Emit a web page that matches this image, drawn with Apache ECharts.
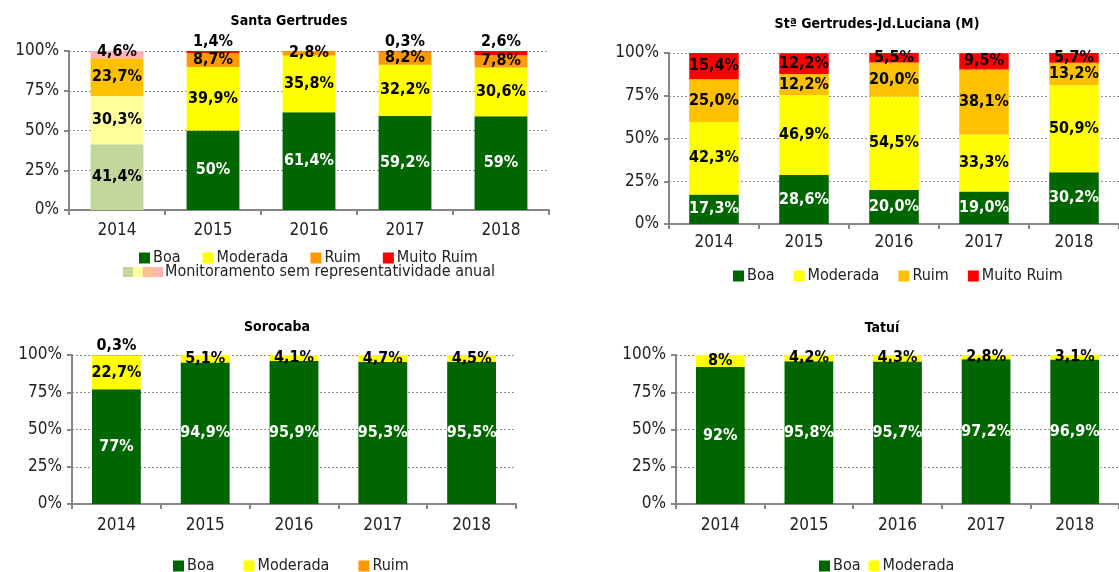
<!DOCTYPE html>
<html>
<head>
<meta charset="utf-8">
<script src="https://cdn.jsdelivr.net/npm/echarts@6/dist/echarts.min.js"></script>
<style>
  html, body { margin: 0; padding: 0; background: #fff; }
  #chart { width: 1119px; height: 572px; }
</style>
</head>
<body>
<div id="chart"></div>
<script>
// anos (categorias)
const years = ['2014', '2015', '2016', '2017', '2018'];
const yTicks = [0, 25, 50, 75, 100];

// Santa Gertrudes
const sgBoa = [41.4, 50, 61.4, 59.2, 59];
const sgModerada = [30.3, 39.9, 35.8, 32.2, 30.6];
const sgRuim = [23.7, 8.7, 2.8, 8.2, 7.8];
const sgMuitoRuim = [4.6, 1.4, 0, 0.3, 2.6];

// Stª Gertrudes-Jd.Luciana (M)
const jlBoa = [17.3, 28.6, 20.0, 19.0, 30.2];
const jlModerada = [42.3, 46.9, 54.5, 33.3, 50.9];
const jlRuim = [25.0, 12.2, 20.0, 38.1, 13.2];
const jlMuitoRuim = [15.4, 12.2, 5.5, 9.5, 5.7];

// Sorocaba
const soBoa = [77, 94.9, 95.9, 95.3, 95.5];
const soModerada = [22.7, 5.1, 4.1, 4.7, 4.5];
const soRuim = [0.3, 0, 0, 0, 0];

// Tatuí
const taBoa = [92, 95.8, 95.7, 97.2, 96.9];
const taModerada = [8, 4.2, 4.3, 2.8, 3.1];

const FONT = "'DejaVu Sans Condensed', 'Liberation Sans Narrow', 'Roboto', sans-serif";
const C = {
  boa: '#006600', moderada: '#FFFF00', ruim: '#FF9900', ruimGold: '#FFC000', muitoRuim: '#FF0000',
  paleBoa: '#C4D79B', paleModerada: '#FFFF99', paleRuim: '#FAC090', paleMuitoRuim: '#FFB3B3'
};

function fmt(v, dec) {
  if (!v) return '';
  const s = dec ? v.toFixed(dec) : String(v);
  return s.replace('.', ',') + '%';
}

// um painel = grid + eixos
const panels = [
  { left: 69, top: 51, width: 480, height: 159, labelMargin: 12 },
  { left: 669, top: 53, width: 460, height: 171, labelMargin: 10 },
  { left: 72, top: 355, width: 444, height: 149, labelMargin: 13 },
  { left: 676, top: 355, width: 455, height: 149, labelMargin: 13 }
];

function bar(p, name, values, color, opt) {
  opt = opt || {};
  const data = values.map((v, i) => {
    if (i === 0 && opt.pale) return { value: v, itemStyle: { color: opt.pale } };
    return v;
  });
  return {
    name: name,
    type: 'bar',
    xAxisIndex: p,
    yAxisIndex: p,
    stack: 'p' + p,
    barWidth: '55%',
    itemStyle: { color: color },
    data: data,
    label: {
      show: true,
      position: opt.position || 'inside',
      distance: 1,
      fontFamily: FONT,
      fontWeight: 'bold',
      fontSize: 16,
      color: opt.labelColor || '#000',
      formatter: (prm) => fmt(prm.value, opt.dec)
    }
  };
}

const series = [
  // Santa Gertrudes
  bar(0, 'Boa', sgBoa, C.boa, { pale: C.paleBoa, labelColor: '#fff' }),
  bar(0, 'Moderada', sgModerada, C.moderada, { pale: C.paleModerada }),
  bar(0, 'Ruim', sgRuim, C.ruim, { pale: C.ruimGold }),
  bar(0, 'Muito Ruim', sgMuitoRuim, C.muitoRuim, { pale: C.paleMuitoRuim, position: 'top' }),
  // Jd. Luciana
  bar(1, 'Boa', jlBoa, C.boa, { labelColor: '#fff', dec: 1 }),
  bar(1, 'Moderada', jlModerada, C.moderada, { dec: 1 }),
  bar(1, 'Ruim', jlRuim, C.ruimGold, { dec: 1 }),
  bar(1, 'Muito Ruim', jlMuitoRuim, C.muitoRuim, { dec: 1 }),
  // Sorocaba
  bar(2, 'Boa', soBoa, C.boa, { labelColor: '#fff' }),
  bar(2, 'Moderada', soModerada, C.moderada),
  bar(2, 'Ruim', soRuim, C.ruim, { position: 'top' }),
  // Tatuí
  bar(3, 'Boa', taBoa, C.boa, { labelColor: '#fff' }),
  bar(3, 'Moderada', taModerada, C.moderada)
];
// 2014 da Santa Gertrudes: rótulo do Boa em preto (barra clara)
series[0].data[0].label = { color: '#000' };
series[3].data[0] = { value: sgMuitoRuim[0], itemStyle: { color: C.paleMuitoRuim }, label: { position: 'insideTop', distance: -7 } };

const axisColor = '#868686';

const option = {
  animation: false,
  backgroundColor: '#fff',
  textStyle: { fontFamily: FONT },
  title: [
    { text: 'Santa Gertrudes', left: 284, top: 9 },
    { text: 'Stª Gertrudes-Jd.Luciana (M)', left: 872, top: 12 },
    { text: 'Sorocaba', left: 272, top: 315 },
    { text: 'Tatuí', left: 877, top: 316 }
  ].map(t => Object.assign(t, {
    textAlign: 'center',
    textStyle: { fontFamily: FONT, fontWeight: 'bold', fontSize: 14, color: '#000' }
  })),
  grid: panels.map(p => ({ left: p.left, top: p.top, width: p.width, height: p.height, containLabel: false })),
  xAxis: panels.map((p, i) => ({
    type: 'category',
    gridIndex: i,
    data: years,
    axisLine: { lineStyle: { color: axisColor, width: 2 } },
    axisTick: { show: true, length: 5, lineStyle: { color: axisColor, width: 2 } },
    axisLabel: { fontFamily: FONT, fontSize: 17, color: '#222', margin: p.labelMargin }
  })),
  yAxis: panels.map((p, i) => ({
    type: 'value',
    gridIndex: i,
    min: yTicks[0],
    max: yTicks[yTicks.length - 1],
    interval: 25,
    axisLine: { show: true, lineStyle: { color: axisColor, width: 2 } },
    axisTick: { show: true, length: 5, lineStyle: { color: axisColor, width: 2 } },
    splitLine: { lineStyle: { color: '#8c8c8c', type: [2, 2], width: 1 } },
    axisLabel: { fontFamily: FONT, fontSize: 17, color: '#222', margin: 10, formatter: '{value}%' }
  })),
  legend: [
    {
      left: 134, top: 245, itemGap: 22,
      data: ['Boa', 'Moderada', { name: 'Ruim', itemStyle: { color: C.ruim } }, 'Muito Ruim']
    },
    {
      left: 728, top: 263, itemGap: 19, width: 450,
      data: ['Boa', 'Moderada', { name: 'Ruim', itemStyle: { color: C.ruimGold } }, 'Muito Ruim']
    },
    {
      left: 168, top: 553, itemGap: 29,
      data: ['Boa', 'Moderada', { name: 'Ruim', itemStyle: { color: C.ruim } }]
    },
    {
      left: 814, top: 553, itemGap: 8,
      data: ['Boa', 'Moderada']
    }
  ].map(l => Object.assign(l, {
    icon: 'rect', itemWidth: 11, itemHeight: 11,
    selectedMode: false,
    textStyle: { fontFamily: FONT, fontSize: 16, color: '#222', padding: [0, 0, 0, -2] }
  })),
  graphic: [
    { type: 'rect', shape: { x: 123, y: 267, width: 10, height: 10 }, style: { fill: C.paleBoa } },
    { type: 'rect', shape: { x: 133, y: 267, width: 10, height: 10 }, style: { fill: C.paleModerada } },
    { type: 'rect', shape: { x: 143, y: 267, width: 10, height: 10 }, style: { fill: C.paleRuim } },
    { type: 'rect', shape: { x: 153, y: 267, width: 10, height: 10 }, style: { fill: C.paleMuitoRuim } },
    {
      type: 'text', x: 165, y: 272,
      style: { text: 'Monitoramento sem representatividade anual', fontFamily: FONT, fontSize: 16, fill: '#222', verticalAlign: 'middle' }
    }
  ],
  series: series
};

const chart = echarts.init(document.getElementById('chart'), null, { renderer: 'canvas' });
chart.setOption(option);
</script>
</body>
</html>
